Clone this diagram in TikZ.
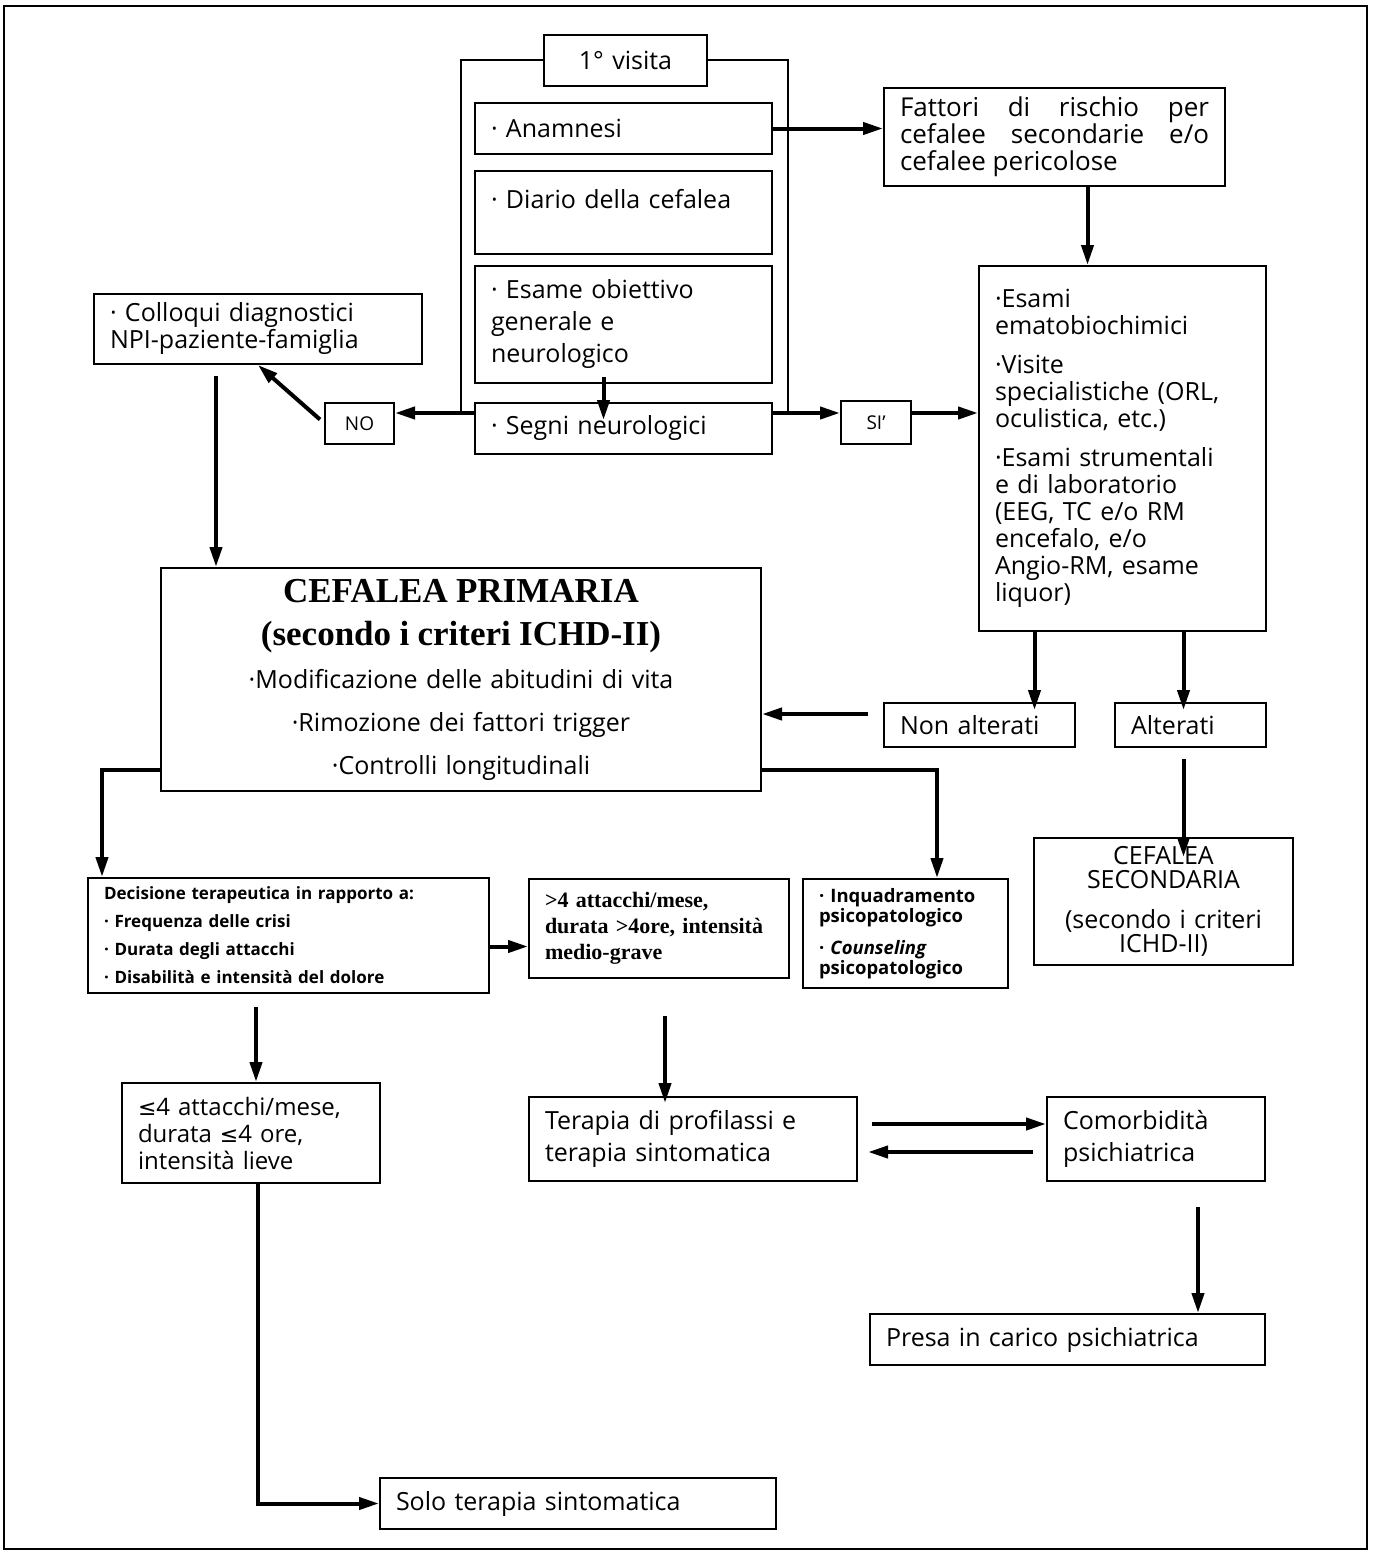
\documentclass[tikz,border=0pt]{standalone}
\usepackage{fontspec}
\setsansfont{Open Sans}
\newfontfamily\timesfont{Liberation Serif}
\newfontfamily\symfont{DejaVu Sans}
\usetikzlibrary{arrows.meta}
\tikzset{
	box/.style={draw, line width=2pt, anchor=north west, inner xsep=16pt, inner ysep=0pt, align=left, font=\sffamily\fontsize{25}{27}\selectfont},
	arr/.style={line width=4pt, -{Triangle[length=20pt,width=12pt]}},
	frame/.style={line width=2pt}
}
\newcommand{\flowbox}[7] % name, left, top, width, height, extra style, text
{
	\pgfmathsetmacro{\tw}{#4-32}
	\node[box, text width=\tw pt, minimum width=#4pt, minimum height=#5pt, #6] (#1) at (#2,#3) {#7};
}
\newcommand{\lefour}{{\symfont\fontsize{22}{27}\selectfont ≤}}

\begin{document}
\begin{tikzpicture}[x=1pt, y=-1pt]
	% page 1375 x 1555, y runs downwards (pixels of the original)
	\useasboundingbox (0,0) rectangle (1375,1555);
	\draw[line width=1.5pt] (4,6) rectangle (1367,1549);

	% first visit
	\flowbox{visita}{543}{34}{163}{51}{align=center}{1° visita}
	\flowbox{anam}{474}{102}{297}{51}{}{· Anamnesi}
	\flowbox{diario}{474}{170}{297}{83}{}{· Diario della cefalea\\\mbox{}}
	\flowbox{esame}{474}{265}{297}{117}{font=\sffamily\fontsize{25}{32}\selectfont}{· Esame obiettivo\\generale e\\neurologico}
	\flowbox{segni}{474}{402}{297}{51}{}{· Segni neurologici}
	\coordinate (fl) at (461,413);
	\coordinate (fr) at (788,413);
	\draw[frame] (visita.west) -| (fl);
	\draw[frame] (visita.east) -| (fr);

	% right column
	\flowbox{fattori}{883}{87}{341}{98}{align=justify, font=\sffamily\fontsize{26}{27}\selectfont}{Fattori di rischio per\linebreak cefalee secondarie e/o\linebreak cefalee pericolose}
	\flowbox{si}{840}{400}{70}{43}{align=center, inner xsep=8pt, font=\sffamily\fontsize{19}{21}\selectfont}{SI'}
	\flowbox{esami}{978}{265}{287}{365}{}{·Esami\\ematobiochimici\\[12pt]·Visite\\specialistiche (ORL,\\oculistica, etc.)\\[12pt]·Esami strumentali\\e di laboratorio\\(EEG, TC e/o RM\\encefalo, e/o\\Angio-RM, esame\\liquor)}
	\flowbox{nonalt}{883}{702}{191}{44}{}{Non alterati}
	\flowbox{alt}{1114}{702}{151}{44}{}{Alterati}
	\flowbox{secondaria}{1033}{837}{259}{127}{align=center, font=\sffamily\fontsize{25}{24}\selectfont}{CEFALEA\\SECONDARIA\\[16pt](secondo i criteri\\ICHD-II)}

	% left column
	\flowbox{no}{324}{402}{69}{41}{align=center, inner xsep=8pt, font=\sffamily\fontsize{19}{21}\selectfont}{NO}
	\flowbox{colloqui}{93}{293}{328}{70}{}{· Colloqui diagnostici\\NPI-paziente-famiglia}

	% primary headache
	\flowbox{primaria}{160}{567}{600}{223}{align=center, font=\sffamily\fontsize{25}{43}\selectfont}{{\timesfont\bfseries\fontsize{35}{43}\selectfont CEFALEA PRIMARIA\\(secondo i criteri ICHD-II)}\\·Modificazione delle abitudini di vita\\·Rimozione dei fattori trigger\\·Controlli longitudinali}

	% therapy
	\flowbox{decisione}{87}{877}{401}{115}{font=\sffamily\bfseries\fontsize{17}{28}\selectfont}{Decisione terapeutica in rapporto a:\\· Frequenza delle crisi\\· Durata degli attacchi\\· Disabilità e intensità del dolore}
	\flowbox{maggiore}{528}{878}{260}{99}{font=\timesfont\bfseries\fontsize{22}{26}\selectfont}{>4 attacchi/mese,\\durata >4ore, intensità\\medio-grave}
	\flowbox{inquadr}{802}{878}{205}{109}{inner xsep=10pt, font=\sffamily\bfseries\fontsize{18.5}{20}\selectfont}{· Inquadramento\\psicopatologico\\[12pt]· \textit{Counseling}\\psicopatologico}
	\flowbox{minore}{121}{1082}{258}{100}{font=\sffamily\fontsize{24}{27}\selectfont}{\lefour4 attacchi/mese,\\durata \lefour4 ore,\\intensità lieve}
	\flowbox{terapia}{528}{1096}{328}{84}{font=\sffamily\fontsize{25}{32}\selectfont}{Terapia di profilassi e\\terapia sintomatica}
	\flowbox{comorb}{1046}{1096}{218}{84}{font=\sffamily\fontsize{25}{32}\selectfont}{Comorbidità\\psichiatrica}
	\flowbox{presa}{869}{1313}{395}{51}{}{Presa in carico psichiatrica}
	\flowbox{solo}{379}{1477}{396}{51}{}{Solo terapia sintomatica}

	% connectors
	\draw[arr] (anam.east) -- (anam.east -| fattori.west);
	\draw[arr] ([xshift=33pt]fattori.south) -- ([xshift=33pt]fattori.south |- esami.north);
	\draw[arr] ([xshift=-20pt,yshift=7pt]esame.south) -- ([xshift=-20pt,yshift=-18pt]segni.north);
	\draw[arr] (segni.west |- fl) -- (no.east |- fl);
	\draw[arr] (segni.east |- fr) -- (si.west |- fr);
	\draw[arr] (si.east |- fr) -- (esami.west |- fr);
	\draw[arr] ([xshift=-4pt,yshift=4pt]no.west) -- (colloqui.south);
	\draw[arr] ([xshift=-42pt,yshift=-11pt]colloqui.south) -- ([xshift=-42pt]colloqui.south |- primaria.north);

	\draw[arr] ([xshift=55pt]nonalt.north |- esami.south) -- ([xshift=55pt,yshift=-8pt]nonalt.north);
	\draw[arr] ([xshift=-7pt]alt.north |- esami.south) -- ([xshift=-7pt,yshift=-8pt]alt.north);
	\draw[arr] ([xshift=-15pt,yshift=11pt]nonalt.west) -- ([yshift=11pt]nonalt.west -| primaria.east);
	\draw[arr] ([xshift=-7pt,yshift=-11pt]alt.south) -- ([xshift=-7pt,yshift=-20pt]alt.south |- secondaria.north);

	\draw[arr] ([yshift=22pt]primaria.south west) -| ([xshift=15pt]decisione.north west);
	\draw[arr] ([yshift=22pt]primaria.south east) -| ([xshift=135pt]inquadr.north west);
	\draw[arr] ([yshift=-11pt]decisione.east) -- ([yshift=-11pt]decisione.east -| maggiore.west);
	\draw[arr] ([xshift=5pt,yshift=-13pt]minore.north |- decisione.south) -- ([xshift=5pt]minore.north);
	\draw[arr] ([xshift=7pt]minore.south) |- (solo.west);
	\draw[arr] ([xshift=6pt,yshift=-37pt]maggiore.south) -- ([xshift=6pt,yshift=-7pt]maggiore.south |- terapia.north);

	\draw[arr] ([xshift=14pt,yshift=15pt]terapia.east) -- ([yshift=15pt]comorb.west);
	\draw[arr] ([xshift=-13pt,yshift=-13pt]comorb.west) -- ([xshift=10pt,yshift=-13pt]terapia.east);
	\draw[arr] ([xshift=42pt,yshift=-25pt]comorb.south) -- ([xshift=42pt]comorb.south |- presa.north);
\end{tikzpicture}
\end{document}
